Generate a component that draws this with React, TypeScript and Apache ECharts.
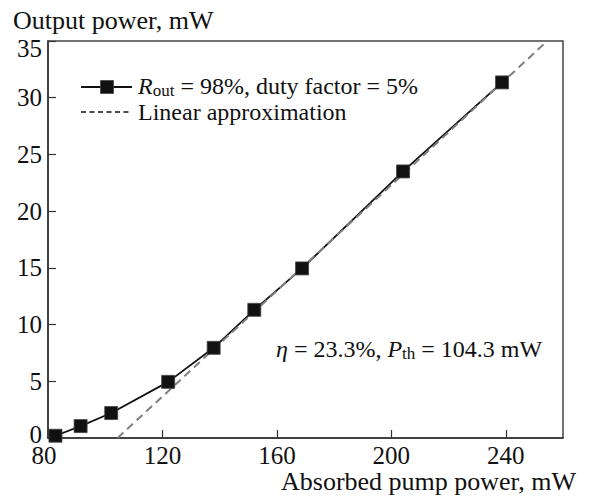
import React, { useEffect, useRef } from "react";
import * as echarts from "echarts";

// Measured points: absorbed pump power (mW) vs output power (mW)
const pumpPower = [82.6, 91.4, 102.1, 122.0, 137.9, 152.1, 168.8, 204.1, 238.7];
const outputPower = [0.2, 1.05, 2.2, 4.95, 7.95, 11.3, 14.95, 23.5, 31.35];
// Linear approximation end points (x, y)
const fitX = [104.3, 254.5];
const fitY = [0, 35];
const xTicks = [80, 120, 160, 200, 240];
const yTicks = [0, 5, 10, 15, 20, 25, 30, 35];

const FONT = "Liberation Serif";

export default function App() {
  const ref = useRef<HTMLDivElement>(null);
  useEffect(() => {
    if (!ref.current) return;
    const chart = echarts.init(ref.current, null, { renderer: "svg" });
    const pts = pumpPower.map((x, i) => [x, outputPower[i]]);
    const fit = fitX.map((x, i) => [x, fitY[i]]);
    const rich = {
      n: { fontFamily: FONT, fontSize: 24, lineHeight: 22, color: "#111" },
      i: { fontFamily: FONT, fontSize: 24, lineHeight: 22, fontStyle: "italic", color: "#111" },
      s: { fontFamily: FONT, fontSize: 17, lineHeight: 16, color: "#111", padding: [9, 0, 0, 0] },
    };
    chart.setOption({
      animation: false,
      grid: {
        left: 48,
        top: 41,
        right: 27,
        bottom: 60,
        show: true,
        borderColor: "#444",
        borderWidth: 1.5,
        backgroundColor: "transparent",
      },
      xAxis: {
        type: "value",
        min: 80,
        max: 260,
        interval: 40,
        axisLine: { show: true, lineStyle: { color: "#333", width: 1.5 } },
        axisTick: { show: true, inside: true, length: 8, lineStyle: { color: "#333", width: 1.2 }, customValues: xTicks },
        axisLabel: {
          customValues: xTicks,
          fontFamily: FONT,
          fontSize: 25,
          lineHeight: 20,
          color: "#111",
          margin: 7,
          formatter: (v: number) => (v === 80 ? "{l|80}" : String(v)),
          rich: { l: { fontFamily: FONT, fontSize: 25, lineHeight: 20, color: "#111", padding: [0, 8, 0, 0] } },
        },
        splitLine: { show: false },
      },
      yAxis: {
        type: "value",
        min: 0,
        max: 35,
        interval: 5,
        axisLine: { show: true, lineStyle: { color: "#333", width: 1.5 } },
        axisTick: { show: true, inside: true, length: 8, lineStyle: { color: "#333", width: 1.2 }, customValues: yTicks },
        axisLabel: {
          customValues: yTicks,
          fontFamily: FONT,
          fontSize: 25,
          lineHeight: 20,
          color: "#111",
          margin: 6,
          formatter: (v: number) => (v === 35 ? "{t|35}" : v === 0 ? "{b|0}" : String(v)),
          rich: {
            t: { fontFamily: FONT, fontSize: 25, lineHeight: 20, color: "#111", padding: [14, 0, 0, 0] },
            b: { fontFamily: FONT, fontSize: 25, lineHeight: 20, color: "#111", padding: [0, 0, 7, 0] },
          },
        },
        splitLine: { show: false },
      },
      series: [
        {
          type: "line",
          name: "line",
          data: pts,
          showSymbol: false,
          symbol: "none",
          lineStyle: { color: "#111", width: 1.8 },
          z: 2,
        },
        {
          type: "line",
          name: "Linear approximation",
          data: fit,
          symbol: "none",
          lineStyle: { color: "#808080", width: 2, type: [8, 5] },
          z: 3,
        },
        {
          type: "scatter",
          name: "points",
          data: pts,
          symbol: "rect",
          symbolSize: 13,
          itemStyle: { color: "#111", borderColor: "#444", borderWidth: 0.8, opacity: 1 },
          z: 4,
        },
      ],
      graphic: [
        {
          type: "text",
          x: 13,
          y: 20,
          style: { text: "Output power, mW", fontFamily: FONT, fontSize: 26, fill: "#111", verticalAlign: "middle" },
        },
        {
          type: "text",
          x: 576,
          y: 481,
          style: {
            text: "Absorbed pump power, mW",
            fontFamily: FONT,
            fontSize: 26,
            fill: "#111",
            align: "right",
            verticalAlign: "middle",
          },
        },
        {
          type: "line",
          shape: { x1: 81, y1: 87, x2: 132, y2: 87 },
          style: { stroke: "#111", lineWidth: 1.8 },
        },
        {
          type: "rect",
          shape: { x: 100.5, y: 80.5, width: 13, height: 13 },
          style: { fill: "#111", stroke: "#444", lineWidth: 0.8 },
        },
        {
          type: "text",
          x: 138,
          y: 86,
          style: {
            text: "{i|R}{s|out}{n| = 98%, duty factor = 5%}",
            rich,
            verticalAlign: "middle",
            fill: "#111",
          },
        },
        {
          type: "line",
          shape: { x1: 81, y1: 112, x2: 132, y2: 112 },
          style: { stroke: "#111", lineWidth: 1.5, lineDash: [5, 3.5] },
        },
        {
          type: "text",
          x: 138,
          y: 112,
          style: {
            text: "{n|Linear approximation}",
            rich,
            verticalAlign: "middle",
            fill: "#111",
          },
        },
        {
          type: "text",
          x: 276,
          y: 349,
          style: {
            text: "{i|η}{n| = 23.3%, }{i|P}{s|th}{n| = 104.3 mW}",
            rich,
            verticalAlign: "middle",
            fill: "#111",
          },
        },
      ],
    });
    return () => chart.dispose();
  }, []);
  return <div ref={ref} style={{ position: "absolute", left: 0, top: 0, width: 590, height: 498 }} />;
}
